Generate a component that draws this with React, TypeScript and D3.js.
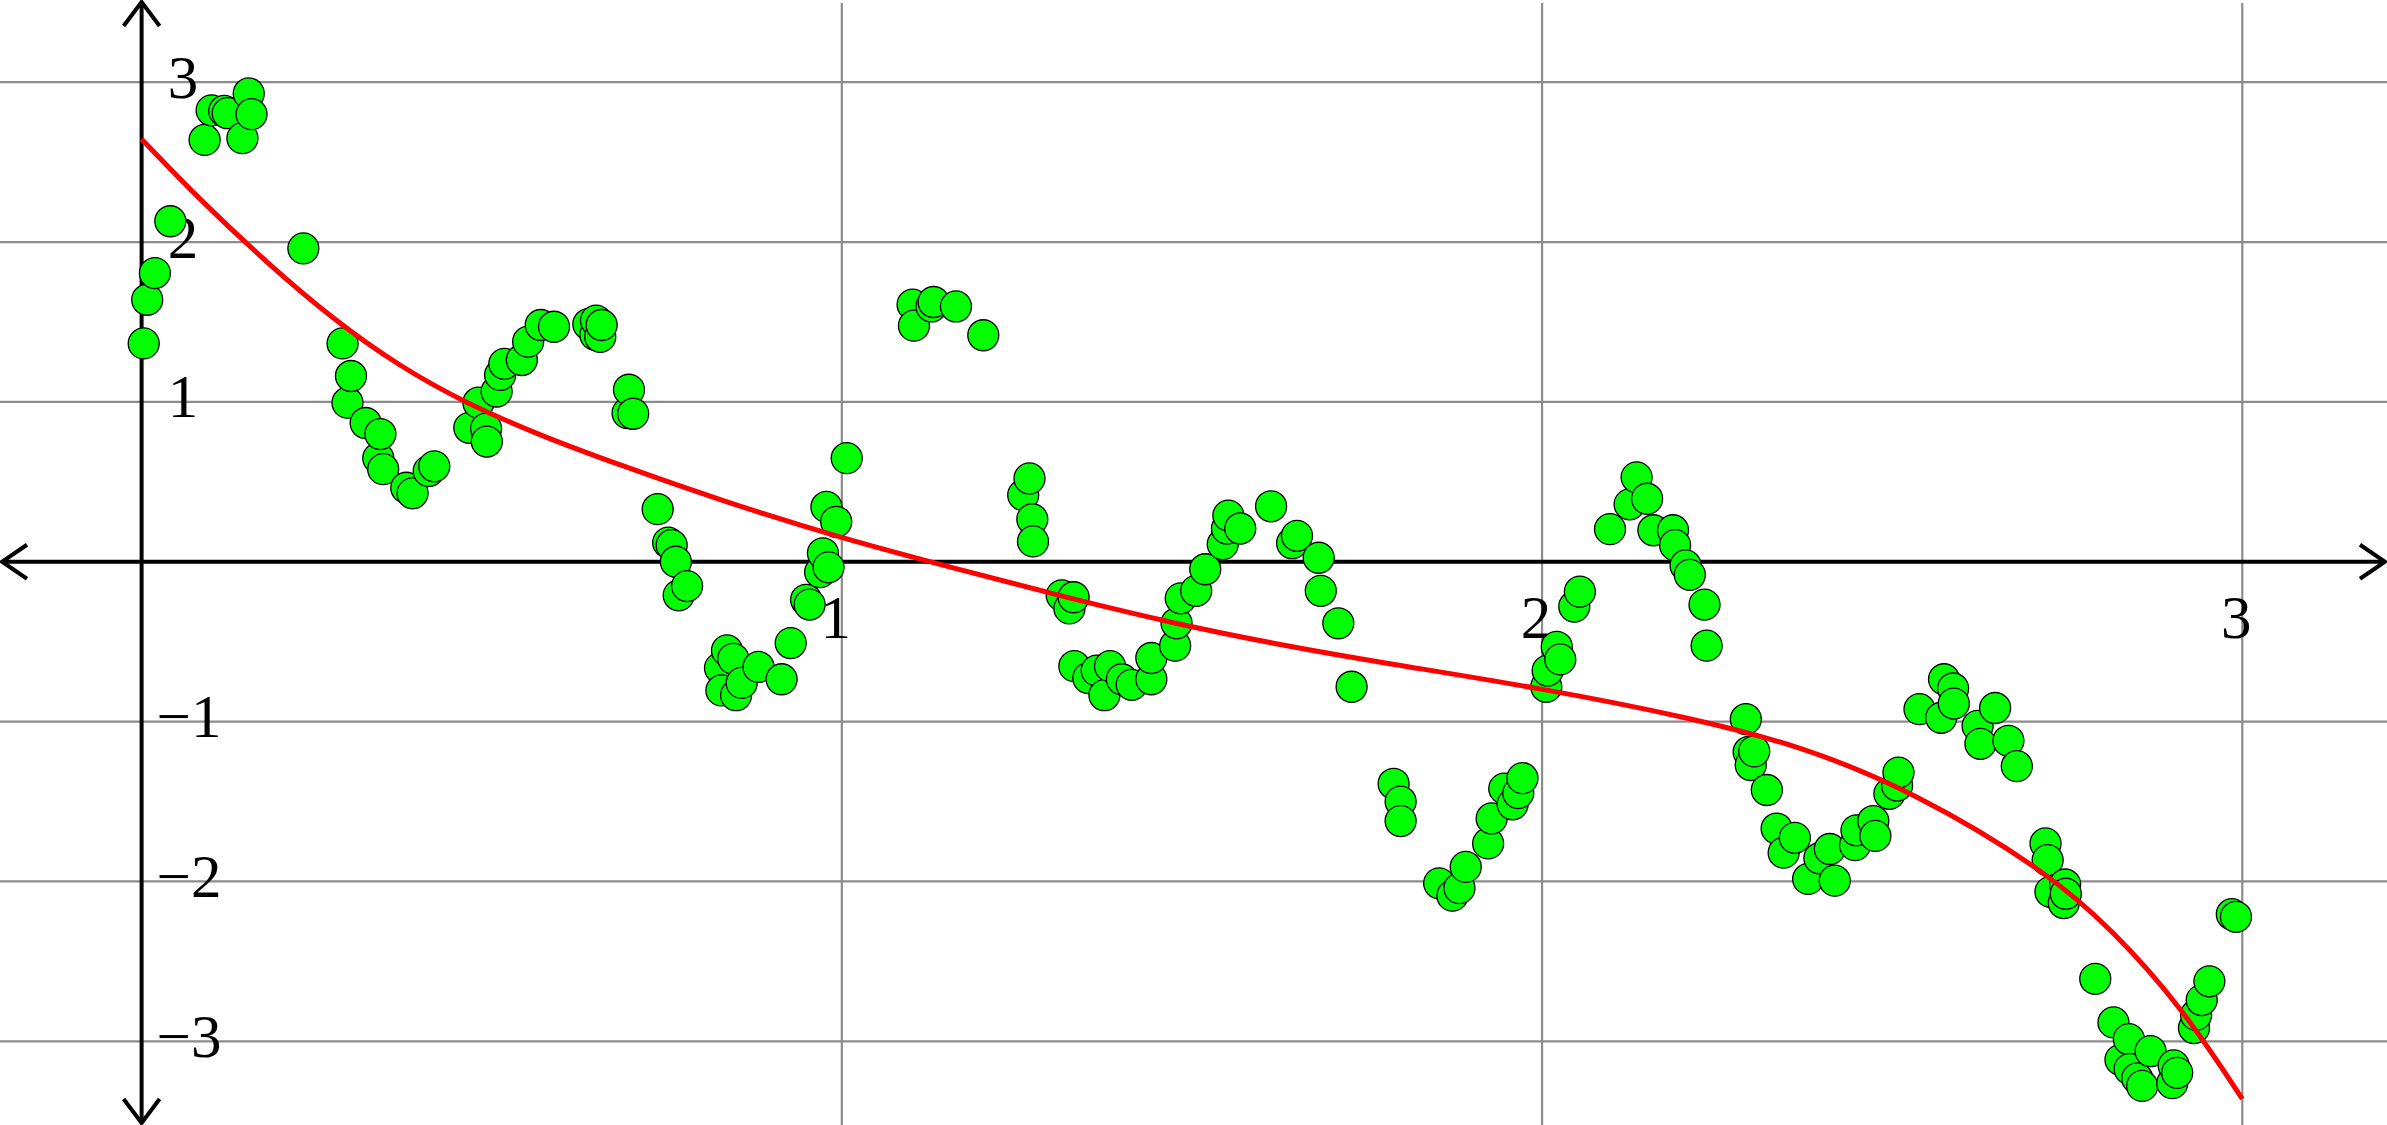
import React from "react";
import * as d3 from "d3";

// ---- data ----
const pointX = [
  0.003, 0.008, 0.019, 0.041, 0.090, 0.100, 0.118, 0.123, 0.144, 0.153, 0.157, 0.231,
  0.287, 0.294, 0.299, 0.320, 0.338, 0.341, 0.345, 0.378, 0.387, 0.410, 0.418, 0.468,
  0.481, 0.492, 0.493, 0.507, 0.512, 0.518, 0.543, 0.552, 0.570, 0.589, 0.638, 0.648,
  0.649, 0.655, 0.657, 0.694, 0.696, 0.702, 0.737, 0.752, 0.757, 0.763, 0.767, 0.779,
  0.826, 0.828, 0.836, 0.845, 0.849, 0.857, 0.881, 0.914, 0.927, 0.949, 0.954, 0.969,
  0.973, 0.978, 0.981, 0.992, 1.007, 1.101, 1.103, 1.128, 1.131, 1.163, 1.202, 1.259,
  1.268, 1.272, 1.273, 1.314, 1.325, 1.331, 1.332, 1.352, 1.364, 1.375, 1.383, 1.400,
  1.414, 1.442, 1.442, 1.476, 1.478, 1.484, 1.506, 1.519, 1.544, 1.550, 1.552, 1.569,
  1.613, 1.643, 1.650, 1.681, 1.684, 1.709, 1.728, 1.788, 1.798, 1.798, 1.853, 1.872,
  1.882, 1.891, 1.923, 1.928, 1.946, 1.958, 1.966, 1.972, 2.006, 2.008, 2.021, 2.026,
  2.046, 2.054, 2.097, 2.125, 2.135, 2.150, 2.159, 2.187, 2.190, 2.205, 2.211, 2.232,
  2.235, 2.291, 2.295, 2.298, 2.303, 2.321, 2.335, 2.345, 2.361, 2.380, 2.396, 2.411,
  2.418, 2.447, 2.449, 2.473, 2.476, 2.496, 2.507, 2.509, 2.539, 2.570, 2.574, 2.587,
  2.588, 2.622, 2.626, 2.647, 2.666, 2.678, 2.719, 2.722, 2.726, 2.745, 2.747, 2.748,
  2.790, 2.816, 2.826, 2.838, 2.839, 2.850, 2.857, 2.869, 2.900, 2.902, 2.907, 2.931,
  2.934, 2.942, 2.953, 2.985, 2.991,
];
const pointY = [
  1.366, 1.639, 1.806, 2.13, 2.639, 2.824, 2.82, 2.806, 2.65, 2.93, 2.80, 1.96,
  1.366, 0.995, 1.162, 0.868, 0.648, 0.799, 0.579, 0.463, 0.428, 0.567, 0.597, 0.838,
  0.995, 0.833, 0.752, 1.065, 1.169, 1.238, 1.262, 1.377, 1.481, 1.470, 1.486, 1.42,
  1.509, 1.407, 1.481, 0.93, 1.076, 0.926, 0.329, 0.120, 0.104, 0.0, -0.21, -0.152,
  -0.665, -0.805, -0.555, -0.607, -0.835, -0.758, -0.658, -0.735, -0.509, -0.238, -0.268, -0.065,
  0.053, 0.343, -0.035, 0.25, 0.648, 1.609, 1.477, 1.597, 1.625, 1.597, 1.417, 0.417,
  0.521, 0.266, 0.127, -0.21, -0.292, -0.222, -0.653, -0.728, -0.681, -0.835, -0.653, -0.735,
  -0.770, -0.735, -0.602, -0.525, -0.385, -0.229, -0.182, -0.047, 0.110, 0.208, 0.289, 0.208,
  0.347, 0.116, 0.162, 0.025, -0.182, -0.385, -0.782, -1.389, -1.50, -1.622, -2.012, -2.089,
  -2.042, -1.909, -1.762, -1.606, -1.419, -1.517, -1.447, -1.354, -0.782, -0.681, -0.532, -0.611,
  -0.28, -0.187, 0.204, 0.359, 0.528, 0.394, 0.197, 0.197, 0.104, -0.023, -0.082, -0.268,
  -0.525, -0.985, -1.19, -1.272, -1.186, -1.428, -1.669, -1.820, -1.727, -1.984, -1.855, -1.797,
  -1.995, -1.773, -1.680, -1.622, -1.715, -1.452, -1.40, -1.319, -0.922, -0.976, -0.735, -0.793,
  -0.887, -1.027, -1.139, -0.915, -1.120, -1.279, -1.762, -1.867, -2.065, -2.135, -2.019, -2.077,
  -2.609, -2.882, -3.116, -2.987, -3.174, -3.232, -3.279, -3.062, -3.262, -3.151, -3.197, -2.917,
  -2.835, -2.742, -2.625, -2.205, -2.221,
];

// fitted (red) curve, read at sample positions
const curveX = [0, 0.083, 0.179, 0.274, 0.369, 0.464, 0.569, 0.683, 0.826, 0.997, 1.169, 1.331,
  1.474, 1.617, 1.769, 2.002, 2.216, 2.368, 2.530, 2.721, 2.816, 2.912, 3.0];
const curveY = [2.644, 2.265, 1.87, 1.515, 1.22, 0.99, 0.79, 0.605, 0.385, 0.15, -0.05, -0.235,
  -0.385, -0.513, -0.63, -0.793, -0.98, -1.15, -1.435, -1.937, -2.31, -2.777, -3.36];

const xTicks = [1, 2, 3];
const yTicks = [-3, -2, -1, 1, 2, 3];
const xTickLabels = ["1", "2", "3"];
const yTickLabels = ["\u22123", "\u22122", "\u22121", "1", "2", "3"];

const W = 2387;
const H = 1125;

export default function App() {
  const x = d3.scaleLinear().domain([0, 3]).range([141.6, 2242.3]);
  const y = d3.scaleLinear().domain([-3, 3]).range([1041.3, 82.2]);
  const x0 = x(0);
  const y0 = y(0);

  const line = d3
    .line<number>()
    .x((_, i) => x(curveX[i]))
    .y((_, i) => y(curveY[i]))
    .curve(d3.curveBasis);

  const font = "'Liberation Serif', 'DejaVu Serif', serif";
  const fs = 61;

  return (
    <svg
      width={W}
      height={H}
      viewBox={`0 0 ${W} ${H}`}
      style={{ position: "absolute", left: 0, top: 0, display: "block", background: "#fff" }}
    >
      {/* grid */}
      <g stroke="#8c8c8c" strokeWidth={2.2}>
        {yTicks.map((t) => (
          <line key={"gy" + t} x1={0} x2={W} y1={y(t)} y2={y(t)} />
        ))}
        {xTicks.map((t) => (
          <line key={"gx" + t} x1={x(t)} x2={x(t)} y1={3} y2={H} />
        ))}
      </g>

      {/* axes */}
      <g stroke="#000" strokeWidth={4} fill="none" strokeLinecap="butt">
        <line x1={2} x2={W - 2} y1={y0} y2={y0} />
        <line x1={x0} x2={x0} y1={2} y2={H - 2} />
        <polyline points={`${W - 27},${y0 - 17} ${W - 2},${y0} ${W - 27},${y0 + 17}`} />
        <polyline points={`27,${y0 - 17} 2,${y0} 27,${y0 + 17}`} />
        <polyline points={`${x0 - 18},26 ${x0},2 ${x0 + 18},26`} />
        <polyline points={`${x0 - 18},${H - 26} ${x0},${H - 2} ${x0 + 18},${H - 26}`} />
      </g>

      {/* tick labels */}
      <g fontFamily={font} fontSize={fs} fill="#000" textAnchor="middle">
        {xTicks.map((t, i) => (
          <text key={"lx" + t} x={x(t) - 6} y={y0 + 76}>
            {xTickLabels[i]}
          </text>
        ))}
        {yTicks.map((t, i) => (
          <text key={"ly" + t} x={t < 0 ? 189 : 183} y={y(t) + 15.5}>
            {yTickLabels[i]}
          </text>
        ))}
      </g>

      {/* points */}
      <g fill="#00ff00" stroke="#000" strokeWidth={1.3}>
        {pointX.map((px, i) => (
          <circle key={"p" + i} cx={x(px)} cy={y(pointY[i])} r={15.5} />
        ))}
      </g>

      {/* fitted curve */}
      <path d={line(curveX) || ""} fill="none" stroke="#ff0000" strokeWidth={5} />
    </svg>
  );
}
